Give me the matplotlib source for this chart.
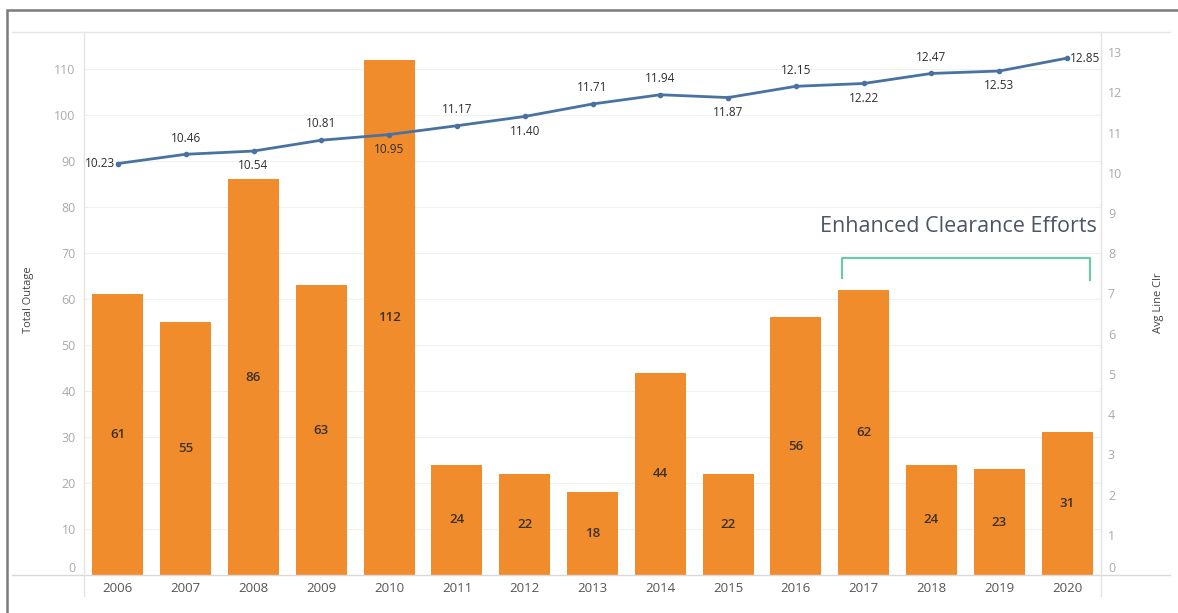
import numpy as np
import matplotlib
matplotlib.use('Agg')
import matplotlib.pyplot as plt
from matplotlib.lines import Line2D
from matplotlib.patches import Rectangle
import matplotlib.transforms as mtransforms

plt.rcParams['font.family'] = ['Open Sans', 'DejaVu Sans']

years = ['2006', '2007', '2008', '2009', '2010', '2011', '2012', '2013',
         '2014', '2015', '2016', '2017', '2018', '2019', '2020']
total_outage = [61, 55, 86, 63, 112, 24, 22, 18, 44, 22, 56, 62, 24, 23, 31]
avg_line_clr = [10.23, 10.46, 10.54, 10.81, 10.95, 11.17, 11.40, 11.71,
                11.94, 11.87, 12.15, 12.22, 12.47, 12.53, 12.85]
label_side = ['left', 'above', 'below', 'above', 'below', 'above', 'below', 'above',
              'above', 'below', 'above', 'below', 'above', 'below', 'right']
bracket_start, bracket_end = '2017', '2020'
note = 'Enhanced Clearance Efforts'

orange = '#f08c2c'
blue = '#4a72a0'

fig = plt.figure(figsize=(11.78, 6.13), dpi=100)
ax = fig.add_axes([84/1178, 1-575/613, (1101-84)/1178, (575-32)/613])
ax2 = ax.twinx()

x = np.arange(len(years))
bars = ax.bar(x, total_outage, width=0.75, color=orange, zorder=2)
for b, v in zip(bars, total_outage):
    ax.text(b.get_x() + b.get_width()/2, v/2, str(v), ha='center', va='center',
            fontsize=9.5, color='#3b3026', fontweight='semibold', zorder=3)

ax.set_xlim(-0.5, len(years) - 0.5)
ax.set_ylim(0, 118)
ax.set_yticks(np.arange(0, 111, 10))
ax.set_xticks(x)
ax.set_xticklabels(years)
for yv in np.arange(10, 111, 10):
    ax.axhline(yv, color='#f0f0f0', lw=0.8, zorder=0)
ax.tick_params(axis='y', length=0, labelsize=9, labelcolor='#aaaaaa', pad=6)
ax.tick_params(axis='x', length=0, labelsize=9.5, labelcolor='#555555', pad=5)
ax.get_yticklabels()[0].set_verticalalignment('bottom')

ax2.plot(x, avg_line_clr, color=blue, lw=2, marker='o', ms=3, zorder=4)
ax2.set_ylim(0, 13.5)
ax2.set_yticks(np.arange(0, 14, 1))
ax2.tick_params(axis='y', length=0, labelsize=9, labelcolor='#aaaaaa', pad=5)
ax2.get_yticklabels()[0].set_verticalalignment('bottom')

offsets = {'above': (0, 7, 'center', 'bottom'), 'below': (0, -6, 'center', 'top'),
           'left': (-2, 0, 'right', 'center'), 'right': (2, 0, 'left', 'center')}
for xi, v, side in zip(x, avg_line_clr, label_side):
    dx, dy, ha, va = offsets[side]
    ax2.annotate(f'{v:.2f}', (xi, v), xytext=(dx, dy), textcoords='offset points',
                 ha=ha, va=va, fontsize=8.5, color='#2e2e2e')

for a in (ax, ax2):
    for s in a.spines.values():
        s.set_visible(False)

# bracket + annotation
xs = years.index(bracket_start) - 0.32
xe = years.index(bracket_end) + 0.34
ax.plot([xs, xs, xe, xe], [64.5, 68.9, 68.9, 64.1], color='#6fc9a6', lw=1.6,
        clip_on=False, zorder=3)
trans = mtransforms.blended_transform_factory(ax.transData, ax.transAxes)
ax.text(xe + 0.1, 0.641, note, transform=trans, ha='right', va='center',
        fontsize=15.5, color='#4b5568')

# frame lines
fig.add_artist(Line2D([12/1178, 1170/1178], [1-32/613]*2, color='#e6e6e6', lw=1))
fig.add_artist(Line2D([12/1178, 1170/1178], [1-575/613]*2, color='#d9d9d9', lw=1))
fig.add_artist(Line2D([84/1178]*2, [1-32/613, 1-596/613], color='#e3e3e3', lw=1))
fig.add_artist(Line2D([1101/1178]*2, [1-32/613, 1-596/613], color='#e3e3e3', lw=1))
fig.add_artist(Rectangle((7/1178, -0.1), 1.1, 1.1 - 10/613, fill=False,
                         edgecolor='#7a7a7a', lw=1.8, transform=fig.transFigure))

fig.text(28/1178, 1-300/613, 'Total Outage', rotation=90, ha='center', va='center',
         fontsize=8, color='#444444')
fig.text(1158/1178, 1-303/613, 'Avg Line Clr', rotation=90, ha='center', va='center',
         fontsize=8, color='#444444')

fig.savefig('out.png', dpi=100)
